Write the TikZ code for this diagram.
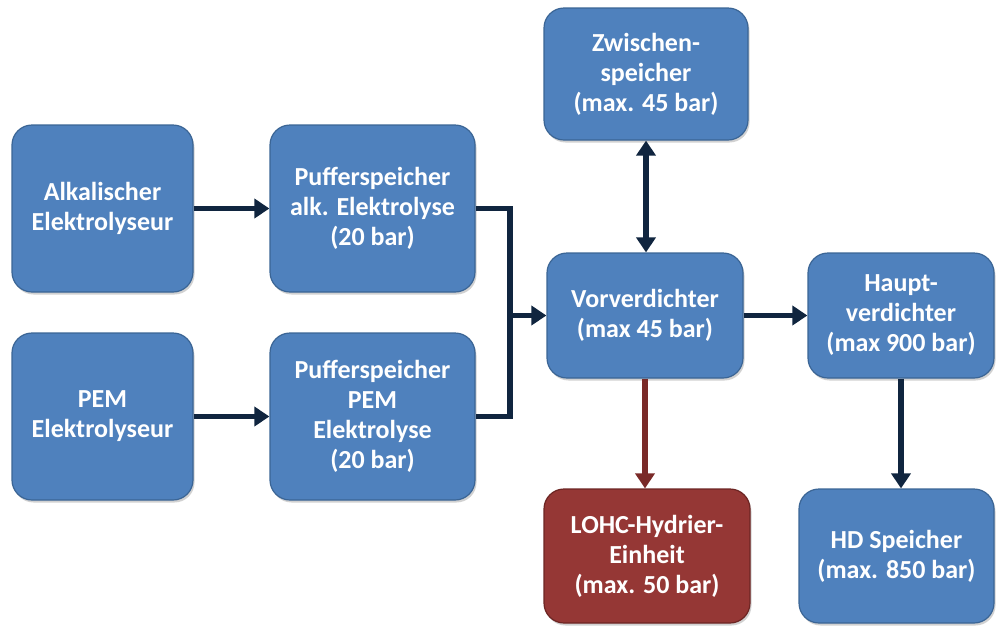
\documentclass[tikz,border=0pt]{standalone}
\usepackage{fontspec}
\setmainfont{Carlito}
\usetikzlibrary{arrows.meta,shadows}
\definecolor{boxblue}{HTML}{4F81BD}
\definecolor{boxblueedge}{HTML}{3B6595}
\definecolor{boxred}{HTML}{953735}
\definecolor{boxrededge}{HTML}{6C2523}
\definecolor{navy}{HTML}{10253F}
\definecolor{darkred}{HTML}{7A2A28}
\tikzset{
  procbox/.style={rectangle, rounded corners=20pt, fill=boxblue, draw=boxblueedge, line width=1.2pt,
    text=white, font=\fontsize{26}{30}\selectfont\bfseries, align=center, inner sep=0pt,
    drop shadow={shadow xshift=1.5pt, shadow yshift=-2.5pt, opacity=0.3, fill=black!60}},
  redbox/.style={procbox, fill=boxred, draw=boxrededge},
  flow/.style={line width=5.5pt, draw=navy, line join=miter, -{Triangle[length=15pt,width=19pt]}},
  plainflow/.style={line width=5.5pt, draw=navy, line join=miter},
  redflow/.style={flow, draw=darkred},
  twoway/.style={line width=5.5pt, draw=navy, {Triangle[length=15pt,width=19pt]}-{Triangle[length=15pt,width=19pt]}}
}
\begin{document}
\begin{tikzpicture}[x=1pt,y=-1pt]
\useasboundingbox (0,0) rectangle (996,625);
\node[procbox, minimum width=181pt, minimum height=167pt] (alk) at (102.5,208.5) {Alkalischer\\Elektrolyseur};
\node[procbox, minimum width=205pt, minimum height=167pt] (pufalk) at (372.5,208.5) {Pufferspeicher\\alk. Elektrolyse\\(20 bar)};
\node[procbox, minimum width=181pt, minimum height=167pt] (pem) at (102.5,416.5) {PEM\\Elektrolyseur};
\node[procbox, minimum width=205pt, minimum height=167pt] (pufpem) at (372.5,416.5) {Pufferspeicher\\PEM\\Elektrolyse\\(20 bar)};
\node[procbox, minimum width=204pt, minimum height=132pt] (zw) at (646,74) {Zwischen-\\speicher\\(max. 45 bar)};
\node[procbox, minimum width=196pt, minimum height=125pt] (vor) at (645,315.5) {Vorverdichter\\(max 45 bar)};
\node[procbox, minimum width=186pt, minimum height=125pt] (haupt) at (901,315.5) {Haupt-\\verdichter\\(max 900 bar)};
\node[redbox, minimum width=206pt, minimum height=134pt] (lohc) at (647,556) {LOHC-Hydrier-\\Einheit\\(max. 50 bar)};
\node[procbox, minimum width=195pt, minimum height=134pt] (hd) at (896.5,556) {HD Speicher\\(max. 850 bar)};
\coordinate (bus) at (510,315.5);
\draw[flow] (alk.east) -- (pufalk.west);
\draw[flow] (pem.east) -- (pufpem.west);
\draw[plainflow] (pufalk.east) -| (bus) |- (pufpem.east);
\draw[flow] (bus) -- (vor.west);
\draw[twoway] (zw.south) -- (zw.south |- vor.north);
\draw[flow] (vor.east) -- (haupt.west);
\draw[redflow] (vor.south) -- (vor.south |- lohc.north);
\draw[flow] (haupt.south) -- (haupt.south |- hd.north);
\end{tikzpicture}
\end{document}
